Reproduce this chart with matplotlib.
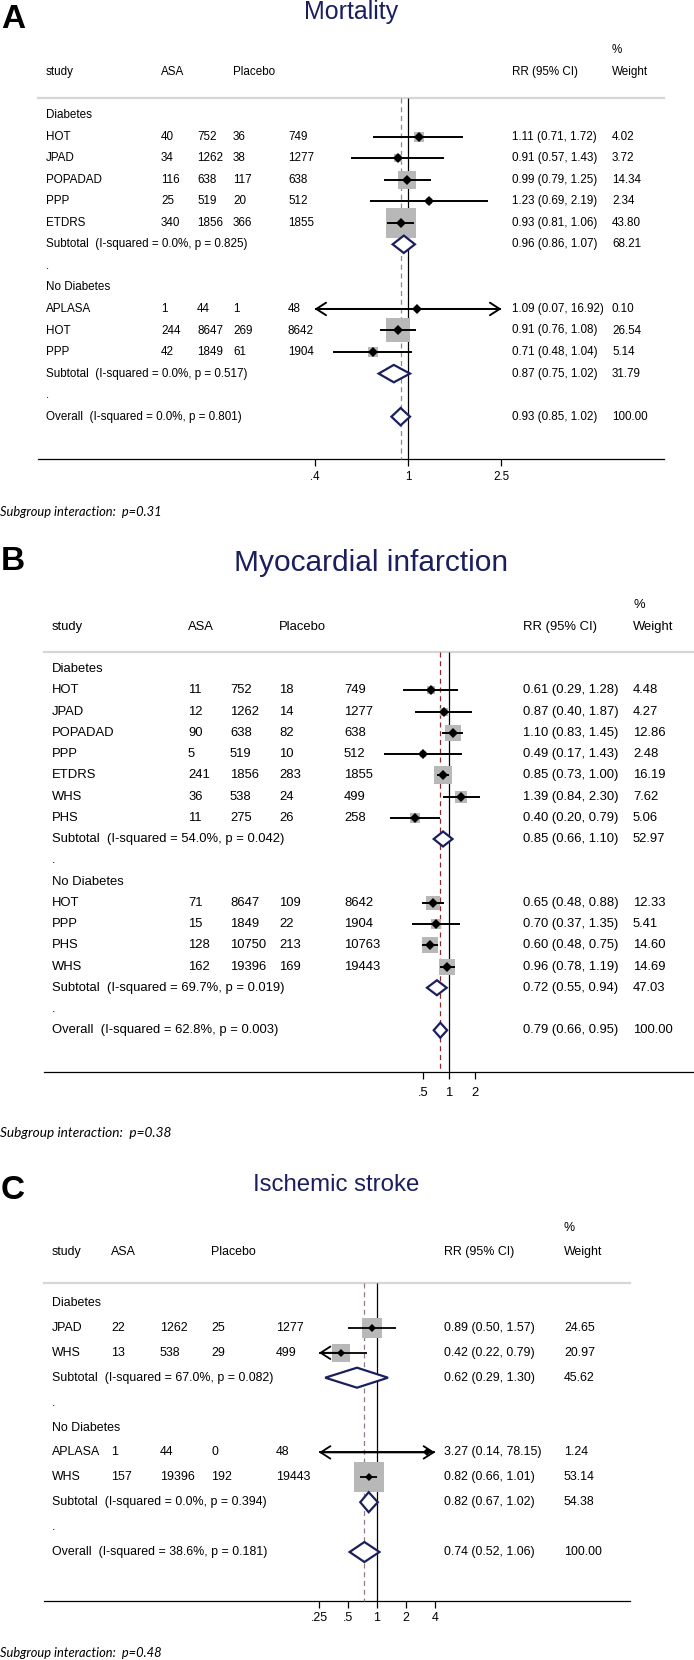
import numpy as np
import matplotlib
matplotlib.use("Agg")
import matplotlib.pyplot as plt
from matplotlib.transforms import blended_transform_factory

plt.rcParams['font.family'] = ['Liberation Sans', 'DejaVu Sans']

# ---------------- DATA ----------------
# Panel A: Mortality
A_title = "Mortality"
A_diab_study = ["HOT", "JPAD", "POPADAD", "PPP", "ETDRS"]
A_diab_asa_e = [40, 34, 116, 25, 340]
A_diab_asa_n = [752, 1262, 638, 519, 1856]
A_diab_pl_e = [36, 38, 117, 20, 366]
A_diab_pl_n = [749, 1277, 638, 512, 1855]
A_diab_rr = [1.11, 0.91, 0.99, 1.23, 0.93]
A_diab_lo = [0.71, 0.57, 0.79, 0.69, 0.81]
A_diab_hi = [1.72, 1.43, 1.25, 2.19, 1.06]
A_diab_w = [4.02, 3.72, 14.34, 2.34, 43.80]
A_diab_sub = (0.96, 0.86, 1.07, 68.21, "0.0%", "0.825")
A_nod_study = ["APLASA", "HOT", "PPP"]
A_nod_asa_e = [1, 244, 42]
A_nod_asa_n = [44, 8647, 1849]
A_nod_pl_e = [1, 269, 61]
A_nod_pl_n = [48, 8642, 1904]
A_nod_rr = [1.09, 0.91, 0.71]
A_nod_lo = [0.07, 0.76, 0.48]
A_nod_hi = [16.92, 1.08, 1.04]
A_nod_w = [0.10, 26.54, 5.14]
A_nod_sub = (0.87, 0.75, 1.02, 31.79, "0.0%", "0.517")
A_overall = (0.93, 0.85, 1.02, 100.00, "0.0%", "0.801")
A_ticks = [0.4, 1, 2.5]
A_ticklabels = [".4", "1", "2.5"]
A_interaction = "Subgroup interaction:  p=0.31"

# Panel B: Myocardial infarction
B_title = "Myocardial infarction"
B_diab_study = ["HOT", "JPAD", "POPADAD", "PPP", "ETDRS", "WHS", "PHS"]
B_diab_asa_e = [11, 12, 90, 5, 241, 36, 11]
B_diab_asa_n = [752, 1262, 638, 519, 1856, 538, 275]
B_diab_pl_e = [18, 14, 82, 10, 283, 24, 26]
B_diab_pl_n = [749, 1277, 638, 512, 1855, 499, 258]
B_diab_rr = [0.61, 0.87, 1.10, 0.49, 0.85, 1.39, 0.40]
B_diab_lo = [0.29, 0.40, 0.83, 0.17, 0.73, 0.84, 0.20]
B_diab_hi = [1.28, 1.87, 1.45, 1.43, 1.00, 2.30, 0.79]
B_diab_w = [4.48, 4.27, 12.86, 2.48, 16.19, 7.62, 5.06]
B_diab_sub = (0.85, 0.66, 1.10, 52.97, "54.0%", "0.042")
B_nod_study = ["HOT", "PPP", "PHS", "WHS"]
B_nod_asa_e = [71, 15, 128, 162]
B_nod_asa_n = [8647, 1849, 10750, 19396]
B_nod_pl_e = [109, 22, 213, 169]
B_nod_pl_n = [8642, 1904, 10763, 19443]
B_nod_rr = [0.65, 0.70, 0.60, 0.96]
B_nod_lo = [0.48, 0.37, 0.48, 0.78]
B_nod_hi = [0.88, 1.35, 0.75, 1.19]
B_nod_w = [12.33, 5.41, 14.60, 14.69]
B_nod_sub = (0.72, 0.55, 0.94, 47.03, "69.7%", "0.019")
B_overall = (0.79, 0.66, 0.95, 100.00, "62.8%", "0.003")
B_ticks = [0.5, 1, 2]
B_ticklabels = [".5", "1", "2"]
B_interaction = "Subgroup interaction:  p=0.38"

# Panel C: Ischemic stroke
C_title = "Ischemic stroke"
C_diab_study = ["JPAD", "WHS"]
C_diab_asa_e = [22, 13]
C_diab_asa_n = [1262, 538]
C_diab_pl_e = [25, 29]
C_diab_pl_n = [1277, 499]
C_diab_rr = [0.89, 0.42]
C_diab_lo = [0.50, 0.22]
C_diab_hi = [1.57, 0.79]
C_diab_w = [24.65, 20.97]
C_diab_sub = (0.62, 0.29, 1.30, 45.62, "67.0%", "0.082")
C_nod_study = ["APLASA", "WHS"]
C_nod_asa_e = [1, 157]
C_nod_asa_n = [44, 19396]
C_nod_pl_e = [0, 192]
C_nod_pl_n = [48, 19443]
C_nod_rr = [3.27, 0.82]
C_nod_lo = [0.14, 0.66]
C_nod_hi = [78.15, 1.01]
C_nod_w = [1.24, 53.14]
C_nod_sub = (0.82, 0.67, 1.02, 54.38, "0.0%", "0.394")
C_overall = (0.74, 0.52, 1.06, 100.00, "38.6%", "0.181")
C_ticks = [0.25, 0.5, 1, 2, 4]
C_ticklabels = [".25", ".5", "1", "2", "4"]
C_interaction = "Subgroup interaction:  p=0.48"

# ---------------- LAYOUT / STYLE ----------------
W, H, DPI = 694, 1660, 100
NAVY = "#1b1f5e"
GREY_SQ = "#b8b8b8"

fig = plt.figure(figsize=(W / DPI, H / DPI), dpi=DPI)
fig.patch.set_facecolor("white")


def build_rows(d):
    rows = []
    rows.append(("group", "Diabetes"))
    for i in range(len(d["diab_study"])):
        rows.append(("study", d["diab_study"][i], d["diab_asa_e"][i], d["diab_asa_n"][i],
                     d["diab_pl_e"][i], d["diab_pl_n"][i], d["diab_rr"][i],
                     d["diab_lo"][i], d["diab_hi"][i], d["diab_w"][i]))
    rows.append(("sub", "Subtotal") + d["diab_sub"])
    rows.append(("dot", "."))
    rows.append(("group", "No Diabetes"))
    for i in range(len(d["nod_study"])):
        rows.append(("study", d["nod_study"][i], d["nod_asa_e"][i], d["nod_asa_n"][i],
                     d["nod_pl_e"][i], d["nod_pl_n"][i], d["nod_rr"][i],
                     d["nod_lo"][i], d["nod_hi"][i], d["nod_w"][i]))
    rows.append(("sub", "Subtotal") + d["nod_sub"])
    rows.append(("dot", "."))
    rows.append(("sub", "Overall") + d["overall"])
    return rows


def panel(d, g):
    top, bot = g["top"], g["bot"]
    y0, dy = g["y0"], g["dy"]
    x1, k = g["x1"], g["k"]
    ax = fig.add_axes([0, 1 - bot / H, 1, (bot - top) / H])
    ax.set_xscale("log")
    ax.set_xlim(np.exp(-x1 / k), np.exp((W - x1) / k))
    ax.set_ylim((bot - y0) / dy, (top - y0) / dy)
    ax.axis("off")
    r = lambda px: (px - y0) / dy
    tr = blended_transform_factory(fig.transFigure, ax.transData)
    fs = g["fs"]
    cols = g["cols"]

    def txt(xpx, row, s, **kw):
        ax.text(xpx / W, row, s, transform=tr, fontsize=kw.pop("fs", fs),
                va="center", ha="left", color="black", **kw)

    # header
    txt(cols["w"], r(g["pct"]), "%")
    hy = r(g["head"])
    txt(cols["study"], hy, "study")
    txt(cols["asa_e"], hy, "ASA")
    txt(cols["pl_e"], hy, "Placebo")
    txt(cols["rr"], hy, "RR (95% CI)")
    txt(cols["w"], hy, "Weight")

    # separator line and axis line
    ax.axhline(r(g["sep"]), xmin=g["lx0"] / W, xmax=g["lx1"] / W, color="#d6d6d6", lw=1.6)
    ya = r(g["axis"])
    ax.axhline(ya, xmin=g["lx0"] / W, xmax=g["lx1"] / W, color="black", lw=0.9)
    ax.vlines(d["ticks"], ya, r(g["axis"] + 7), color="black", lw=0.9)
    for t, tl in zip(d["ticks"], d["ticklabels"]):
        ax.text(t, r(g["tick"]), tl, fontsize=fs, ha="center", va="center")
    # null line and overall dashed line
    ax.vlines(1, r(g["sep"]), ya, color="black", lw=0.9)
    ax.vlines(d["overall"][0], r(g["sep"]), ya, color=g["dash"], lw=0.9,
              linestyles=(0, (4, 3)))

    rows = build_rows(d)
    clip = g["clip"]
    for i, row in enumerate(rows):
        kind = row[0]
        if kind in ("group", "dot"):
            txt(cols["study"], i, row[1])
        elif kind == "study":
            _, name, ae, an, pe, pn, rr, lo, hi, w = row
            txt(cols["study"], i, name)
            txt(cols["asa_e"], i, str(ae))
            txt(cols["asa_n"], i, str(an))
            txt(cols["pl_e"], i, str(pe))
            txt(cols["pl_n"], i, str(pn))
            txt(cols["rr"], i, f"{rr:.2f} ({lo:.2f}, {hi:.2f})")
            txt(cols["w"], i, f"{w:.2f}")
            side_pt = g["sq"] * np.sqrt(w) * 72 / DPI
            ax.scatter([rr], [i], marker="s", s=side_pt ** 2, color=GREY_SQ,
                       linewidths=0, zorder=2)
            l, h = lo, hi
            if clip is not None:
                l, h = max(lo, clip[0]), min(hi, clip[1])
            ax.plot([l, h], [i, i], color="black", lw=g["cilw"], zorder=3,
                    solid_capstyle="butt")
            ap = dict(arrowstyle="->,head_length=0.7,head_width=0.45", lw=g["cilw"],
                      color="black", shrinkA=0, shrinkB=0, mutation_scale=10)
            if clip is not None and lo < clip[0]:
                ax.annotate("", xy=(clip[0], i), xytext=(rr, i), arrowprops=ap,
                            annotation_clip=False, zorder=3)
            if clip is not None and hi > clip[1]:
                ax.annotate("", xy=(clip[1], i), xytext=(rr, i), arrowprops=ap,
                            annotation_clip=False, zorder=3)
            ax.plot([rr], [i], marker="D", ms=g["dm"], color="black", zorder=4,
                    markeredgewidth=0)
        elif kind == "sub":
            _, name, rr, lo, hi, w, i2, p = row
            txt(cols["study"], i, f"{name}  (I-squared = {i2}, p = {p})")
            txt(cols["rr"], i, f"{rr:.2f} ({lo:.2f}, {hi:.2f})")
            txt(cols["w"], i, f"{w:.2f}")
            hh = g["dh"] / dy
            ax.fill([lo, rr, hi, rr, lo], [i, i - hh, i, i + hh, i],
                    facecolor="white", edgecolor=NAVY, lw=1.6, zorder=4)

    # interaction note
    ax.text(0.0, r(g["inter"]), d["interaction"], transform=tr, fontsize=g["ifs"],
            fontstyle="italic", family=["Lato", "DejaVu Sans"], va="center", ha="left")
    # title & letter
    fig.text(g["title_x"] / W, 1 - g["title_y"] / H, d["title"], fontsize=g["tfs"],
             color=NAVY, ha="center", va="center")
    fig.text(1 / W, 1 - g["letter_y"] / H, g["letter"], fontsize=24, fontweight="bold",
             ha="left", va="center", color="black")
    return ax


def pack(prefix):
    gl = globals()
    keys = ["diab_study", "diab_asa_e", "diab_asa_n", "diab_pl_e", "diab_pl_n", "diab_rr",
            "diab_lo", "diab_hi", "diab_w", "diab_sub", "nod_study", "nod_asa_e",
            "nod_asa_n", "nod_pl_e", "nod_pl_n", "nod_rr", "nod_lo", "nod_hi", "nod_w",
            "nod_sub", "overall", "ticks", "ticklabels", "interaction", "title"]
    return {kk: gl[prefix + "_" + kk] for kk in keys}


geomA = dict(top=0, bot=540, y0=115, dy=21.55, x1=408, k=102.0, fs=8.4, ifs=9.3,
             cols=dict(study=46, asa_e=161, asa_n=197, pl_e=233, pl_n=288, rr=512, w=612),
             pct=50, head=72, sep=98, axis=459, tick=477, inter=512, lx0=38, lx1=664,
             dash="#8a8a8a", clip=(0.4, 2.5), sq=4.53, dh=8.7, dm=5.0, cilw=1.4,
             title_x=351, title_y=12, tfs=18, letter="A", letter_y=19)
geomB = dict(top=540, bot=1160, y0=669, dy=21.25, x1=449, k=36.8, fs=9.4, ifs=9.8,
             cols=dict(study=52, asa_e=188, asa_n=230, pl_e=279, pl_n=344, rr=523, w=633),
             pct=605, head=627, sep=652, axis=1072, tick=1093, inter=1133, lx0=44, lx1=694,
             dash="#8b2a2a", clip=None, sq=4.25, dh=7.5, dm=4.8, cilw=1.4,
             title_x=371, title_y=563, tfs=21.5, letter="B", letter_y=562)
geomC = dict(top=1160, bot=1660, y0=1303, dy=24.9, x1=377, k=41.84, fs=8.9, ifs=9.3,
             cols=dict(study=52, asa_e=111, asa_n=160, pl_e=211, pl_n=276, rr=444, w=564),
             pct=1228, head=1252, sep=1283, axis=1601, tick=1618, inter=1653, lx0=44, lx1=630,
             dash="#8c7c8c", clip=(0.25, 4), sq=4.0, dh=10, dm=3.8, cilw=1.3,
             title_x=336, title_y=1185, tfs=17.3, letter="C", letter_y=1190)

panel(pack("A"), geomA)
panel(pack("B"), geomB)
panel(pack("C"), geomC)

fig.savefig("out.png", dpi=DPI, facecolor="white")
